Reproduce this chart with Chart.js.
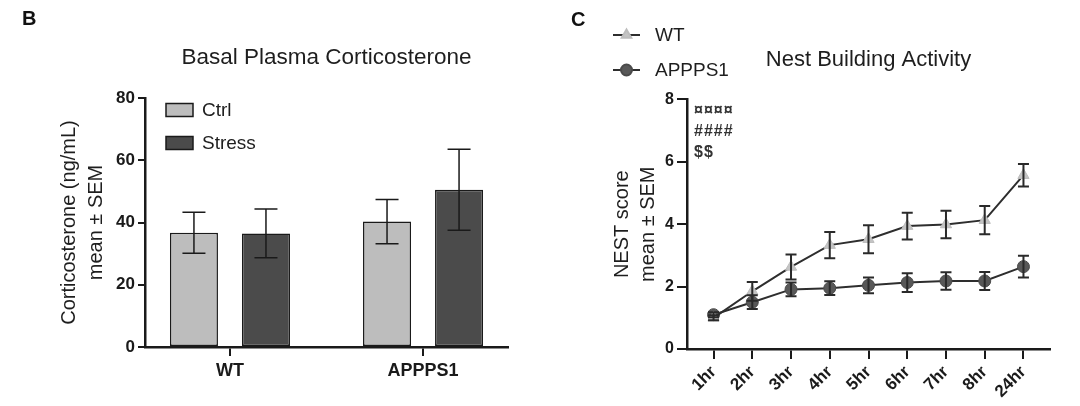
<!DOCTYPE html>
<html>
<head>
<meta charset="utf-8">
<title>Corticosterone and nest building</title>
<script src="https://cdn.jsdelivr.net/npm/chart.js@4.4.0/dist/chart.umd.min.js"></script>
<style>
  body { margin: 0; background: #fff; width: 1080px; height: 406px; overflow: hidden; position: relative;
         font-family: "Liberation Sans", Arial, sans-serif; }
  .panel { position: absolute; top: 0; width: 540px; height: 406px; }
  #panelB { left: 0; }
  #panelC { left: 540px; }
  .letter { position: absolute; font-weight: bold; font-size: 20px; color: #111; }
  .signif { position: absolute; font-weight: bold; font-size: 16px; letter-spacing: 1px; line-height: 21px; color: #333; }
</style>
</head>
<body>
<div class="panel" id="panelB"><canvas id="barChart" width="540" height="406"></canvas></div>
<div class="panel" id="panelC"><canvas id="lineChart" width="540" height="406"></canvas></div>
<div class="letter" style="left:22px; top:7px;">B</div>
<div class="letter" style="left:571px; top:8px;">C</div>
<div class="signif" style="left:694px; top:99px;">¤¤¤¤<br>####<br>$$</div>

<script>
// DATA - panel B
var groups      = ['WT', 'APPPS1'];
var ctrlMean    = [36.7, 40.3];
var ctrlSem     = [6.6, 7.1];
var stressMean  = [36.5, 50.5];
var stressSem   = [7.8, 13.0];
var yTicksB     = [0, 20, 40, 60, 80];

// DATA - panel C
var hours   = ['1hr', '2hr', '3hr', '4hr', '5hr', '6hr', '7hr', '8hr', '24hr'];
var wtMean  = [1.0, 1.85, 2.63, 3.33, 3.52, 3.94, 3.99, 4.13, 5.57];
var wtSem   = [0.08, 0.3, 0.4, 0.42, 0.45, 0.43, 0.44, 0.45, 0.36];
var appMean = [1.1, 1.5, 1.91, 1.95, 2.04, 2.13, 2.18, 2.18, 2.64];
var appSem  = [0.08, 0.22, 0.22, 0.22, 0.25, 0.3, 0.28, 0.29, 0.35];
var yTicksC = [0, 2, 4, 6, 8];

var FONT = '"Liberation Sans", Arial, sans-serif';
var INK  = '#1a1a1a';

function toPoints(values) {
  return values.map(function(v, i) { return { x: i, y: v }; });
}

// error bars drawn from dataset.errors through the y scale
var errorBars = {
  id: 'errorBars',
  afterDatasetsDraw: function(chart) {
    var ctx = chart.ctx;
    var yScale = chart.scales.y;
    chart.data.datasets.forEach(function(ds, i) {
      if (!ds.errors) return;
      var meta = chart.getDatasetMeta(i);
      meta.data.forEach(function(el, j) {
        var v = ds.data[j].y;
        var e = ds.errors[j];
        var top = yScale.getPixelForValue(v + e);
        var bot = yScale.getPixelForValue(v - e);
        var cap = ds.capWidth / 2;
        ctx.save();
        ctx.strokeStyle = ds.errorColor;
        ctx.lineWidth = ds.errorWidth;
        ctx.beginPath();
        ctx.moveTo(el.x, top); ctx.lineTo(el.x, bot);
        ctx.moveTo(el.x - cap, top); ctx.lineTo(el.x + cap, top);
        ctx.moveTo(el.x - cap, bot); ctx.lineTo(el.x + cap, bot);
        ctx.stroke();
        ctx.restore();
      });
    });
  }
};

// hand placed legend (Prism style)
var sideLegend = {
  id: 'sideLegend',
  afterDraw: function(chart, args, opts) {
    if (!opts.items) return;
    var ctx = chart.ctx;
    ctx.save();
    ctx.font = opts.fontSize + 'px ' + FONT;
    ctx.textBaseline = 'middle';
    ctx.fillStyle = '#222';
    chart.data.datasets.forEach(function(ds, i) {
      var it = opts.items[i];
      if (opts.kind === 'box') {
        ctx.fillStyle = ds.backgroundColor;
        ctx.fillRect(it.x, it.y - 6.5, 27, 13);
        ctx.strokeStyle = INK;
        ctx.lineWidth = 1.5;
        ctx.strokeRect(it.x, it.y - 6.5, 27, 13);
      } else {
        ctx.strokeStyle = ds.borderColor;
        ctx.lineWidth = 2;
        ctx.beginPath();
        ctx.moveTo(it.x, it.y); ctx.lineTo(it.x + 27, it.y);
        ctx.stroke();
        ctx.fillStyle = ds.pointBackgroundColor;
        ctx.strokeStyle = ds.pointBorderColor;
        Chart.helpers.drawPoint(ctx, { pointStyle: ds.pointStyle, radius: 5.5, rotation: 0, borderWidth: 1 }, it.x + 13.5, it.y);
      }
      ctx.fillStyle = '#1e1e1e';
      ctx.fillText(ds.label, it.x + opts.textGap, it.y + 1);
    });
    ctx.restore();
  }
};

function barChart() {
  var config = {
    type: 'bar',
    data: {
      datasets: [
        {
          label: 'Ctrl',
          data: toPoints(ctrlMean),
          errors: ctrlSem,
          backgroundColor: '#bdbdbd',
          borderColor: INK,
          borderWidth: 1.5,
          borderSkipped: false,
          errorColor: INK, errorWidth: 1.5, capWidth: 23
        },
        {
          label: 'Stress',
          data: toPoints(stressMean),
          errors: stressSem,
          backgroundColor: '#4b4b4b',
          borderColor: INK,
          borderWidth: 1.5,
          borderSkipped: false,
          errorColor: INK, errorWidth: 1.5, capWidth: 23
        }
      ]
    },
    options: {
      responsive: false,
      animation: false,
      devicePixelRatio: 1,
      categoryPercentage: 0.746,
      barPercentage: 0.667,
      layout: { padding: { left: 0, right: 32, top: 0, bottom: 0 } },
      plugins: {
        legend: { display: false },
        tooltip: { enabled: false },
        title: {
          display: true,
          text: 'Basal Plasma Corticosterone',
          fullSize: false,
          color: '#1e1e1e',
          font: { family: FONT, size: 22.5, weight: 'normal' },
          padding: { top: 44, bottom: 27 }
        },
        sideLegend: {
          kind: 'box', fontSize: 19, textGap: 36,
          items: [{ x: 166, y: 110 }, { x: 166, y: 143 }]
        }
      },
      scales: {
        x: {
          type: 'linear',
          min: -0.44,
          max: 1.44,
          offset: false,
          afterBuildTicks: function(axis) {
            axis.ticks = groups.map(function(g, i) { return { value: i }; });
          },
          afterFit: function(s) { s.height = 59; },
          grid: { display: true, offset: false, drawOnChartArea: false, drawTicks: true, tickLength: 9, lineWidth: 2, color: INK },
          border: { display: true, color: INK, width: 2.5 },
          ticks: {
            padding: 4,
            color: INK,
            font: { family: FONT, size: 18, weight: 'bold' },
            callback: function(v) { return groups[v]; }
          }
        },
        y: {
          min: 0,
          max: 80,
          afterBuildTicks: function(axis) {
            axis.ticks = yTicksB.map(function(v) { return { value: v }; });
          },
          afterFit: function(s) { s.width = 145; },
          grid: { display: true, drawOnChartArea: false, drawTicks: true, tickLength: 7, lineWidth: 2, color: INK },
          border: { display: true, color: INK, width: 2.5 },
          ticks: { padding: 3, color: INK, font: { family: FONT, size: 17, weight: 'bold' } },
          title: {
            display: true,
            text: ['Corticosterone (ng/mL)', 'mean \u00b1 SEM'],
            color: '#1e1e1e',
            font: { family: FONT, size: 20, weight: 'normal', lineHeight: 1.35 },
            padding: { top: 56, bottom: 0 }
          }
        }
      }
    },
    plugins: [errorBars, sideLegend]
  };
  new Chart(document.getElementById('barChart'), config);
}

function lineChart() {
  var config = {
    type: 'line',
    data: {
      datasets: [
        {
          label: 'WT',
          data: toPoints(wtMean),
          errors: wtSem,
          borderColor: '#2e2e2e',
          borderWidth: 2,
          pointStyle: 'triangle',
          pointRadius: 6.5,
          pointBackgroundColor: '#c4c4c4',
          pointBorderColor: '#bdbdbd',
          pointBorderWidth: 1,
          errorColor: '#2a2a2a', errorWidth: 2, capWidth: 11
        },
        {
          label: 'APPPS1',
          data: toPoints(appMean),
          errors: appSem,
          borderColor: '#2e2e2e',
          borderWidth: 2,
          pointStyle: 'circle',
          pointRadius: 6,
          pointBackgroundColor: '#585858',
          pointBorderColor: '#4a4a4a',
          pointBorderWidth: 1,
          errorColor: '#2a2a2a', errorWidth: 2, capWidth: 11
        }
      ]
    },
    options: {
      responsive: false,
      animation: false,
      devicePixelRatio: 1,
      layout: { padding: { left: 0, right: 30, top: 0, bottom: 0 } },
      plugins: {
        legend: { display: false },
        tooltip: { enabled: false },
        title: {
          display: true,
          text: 'Nest Building Activity',
          fullSize: false,
          color: '#1e1e1e',
          font: { family: FONT, size: 22, weight: 'normal' },
          padding: { top: 47, bottom: 26 }
        },
        sideLegend: {
          kind: 'line', fontSize: 19, textGap: 42,
          items: [{ x: 73, y: 35 }, { x: 73, y: 70 }]
        }
      },
      scales: {
        x: {
          type: 'linear',
          min: -0.685,
          max: 8.685,
          offset: false,
          afterBuildTicks: function(axis) {
            axis.ticks = hours.map(function(h, i) { return { value: i }; });
          },
          afterFit: function(s) { s.height = 57; },
          grid: { display: true, offset: false, drawOnChartArea: false, drawTicks: true, tickLength: 10, lineWidth: 2, color: INK },
          border: { display: true, color: INK, width: 2.5 },
          ticks: {
            padding: 3,
            minRotation: 45,
            maxRotation: 45,
            autoSkip: false,
            color: INK,
            font: { family: FONT, size: 17, weight: 'bold' },
            callback: function(v) { return hours[v]; }
          }
        },
        y: {
          min: 0,
          max: 8,
          afterBuildTicks: function(axis) {
            axis.ticks = yTicksC.map(function(v) { return { value: v }; });
          },
          afterFit: function(s) { s.width = 147; },
          grid: { display: true, drawOnChartArea: false, drawTicks: true, tickLength: 10, lineWidth: 2, color: INK },
          border: { display: true, color: INK, width: 2.5 },
          ticks: { padding: 3, color: INK, font: { family: FONT, size: 16, weight: 'bold' } },
          title: {
            display: true,
            text: ['NEST score', 'mean \u00b1 SEM'],
            color: '#1e1e1e',
            font: { family: FONT, size: 20, weight: 'normal', lineHeight: 1.3 },
            padding: { top: 69, bottom: 0 }
          }
        }
      }
    },
    plugins: [errorBars, sideLegend]
  };
  new Chart(document.getElementById('lineChart'), config);
}

barChart();
lineChart();
</script>
</body>
</html>
